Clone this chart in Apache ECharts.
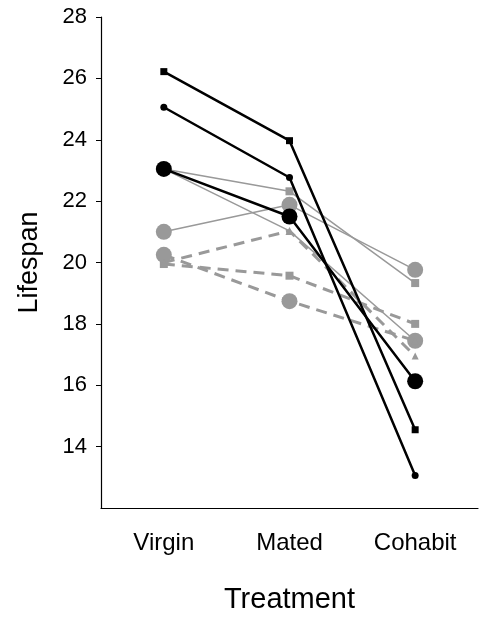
<!DOCTYPE html>
<html>
<head>
<meta charset="utf-8">
<script src="https://cdn.jsdelivr.net/npm/echarts@6/dist/echarts.min.js"></script>
<style type="text/css">
html, body {
	margin: 0;
	padding: 0;
	background: #fff;
}
.lifespanChart {
	width: 479px;
	height: 619px;
}
</style>
</head>
<body>
<div id="lifespanChart" class="lifespanChart"></div>
<script type="text/javascript">
'use strict';
var categories = ['Virgin', 'Mated', 'Cohabit'];
var yTicks = [14, 16, 18, 20, 22, 24, 26, 28];
var yMin = 12;
// black solid lines
var blackSquare = [26.22, 23.97, 14.55];
var blackDot = [25.06, 22.77, 13.06];
var blackBig = [23.05, 21.5, 16.13];
// grey thin lines
var greySquare = [23.05, 22.32, 19.33];
var greyCircle = [21.0, 21.88, 19.76];
var greyTriangle = [23.05, 21.03, 17.45];
// grey dashed lines
var dashSquare = [19.95, 19.57, 18.0];
var dashCircle = [20.25, 18.74, 17.45];
var dashTriangle = [20.0, 21.03, 16.95];

var grey = '#999999';
var font = '"Liberation Sans", Arial, sans-serif';

var makeLine = function(name, data, kind, symbol, size) {
	var s = {
		name: name,
		type: 'line',
		data: data,
		symbol: symbol,
		symbolSize: size,
		animation: false,
		silent: true
	};
	if (kind === 'black') {
		s.lineStyle = {color: '#000', width: 2.5};
		s.itemStyle = {color: '#000'};
		s.z = 5;
	} else if (kind === 'thin') {
		s.lineStyle = {color: grey, width: 1.5};
		s.itemStyle = {color: grey};
		s.z = 3;
	} else {
		s.lineStyle = {color: grey, width: 3, type: [11, 7]};
		s.itemStyle = {color: grey};
		s.z = 2;
	}
	return s;
};

var lifespanOption = {
	backgroundColor: '#fff',
	grid: {
		left: 101,
		top: 17,
		right: 1,
		bottom: 106
	},
	xAxis: {
		type: 'category',
		data: categories,
		boundaryGap: true,
		name: 'Treatment',
		nameLocation: 'middle',
		nameGap: 77,
		nameTextStyle: {fontFamily: font, fontSize: 29, color: '#000'},
		axisLine: {lineStyle: {color: '#000', width: 1.2}},
		axisTick: {show: false},
		axisLabel: {fontFamily: font, fontSize: 24, color: '#000', margin: 23}
	},
	yAxis: {
		type: 'value',
		min: yMin,
		max: yTicks[yTicks.length - 1],
		interval: 2,
		name: 'Lifespan',
		nameLocation: 'middle',
		nameGap: 58,
		nameRotate: 90,
		nameTextStyle: {fontFamily: font, fontSize: 27, color: '#000'},
		splitLine: {show: false},
		axisLine: {show: true, lineStyle: {color: '#000', width: 1.2}},
		axisTick: {show: true, length: 5, customValues: yTicks, lineStyle: {color: '#000'}},
		axisLabel: {
			fontFamily: font,
			fontSize: 22,
			color: '#000',
			margin: 14,
			customValues: yTicks
		}
	},
	series: [
		makeLine('dashSquare', dashSquare, 'dash', 'rect', 8),
		makeLine('dashCircle', dashCircle, 'dash', 'circle', 16),
		makeLine('dashTriangle', dashTriangle, 'dash', 'triangle', 7),
		makeLine('greySquare', greySquare, 'thin', 'rect', 8),
		makeLine('greyCircle', greyCircle, 'thin', 'circle', 16),
		makeLine('greyTriangle', greyTriangle, 'thin', 'triangle', 8),
		makeLine('blackSquare', blackSquare, 'black', 'rect', 7),
		makeLine('blackDot', blackDot, 'black', 'circle', 7),
		makeLine('blackBig', blackBig, 'black', 'circle', 16)
	]
};

var myChart = echarts.init(document.getElementById('lifespanChart'));
myChart.setOption(lifespanOption);
</script>
</body>
</html>
